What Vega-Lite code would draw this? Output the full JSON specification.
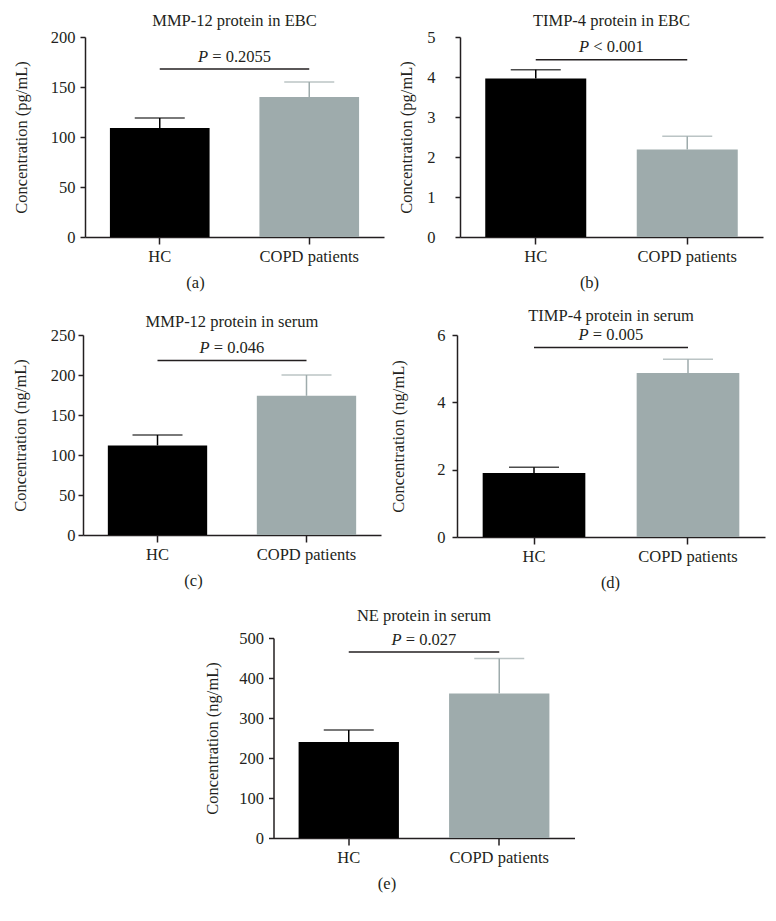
{
  "$schema": "https://vega.github.io/schema/vega-lite/v6.json",
  "padding": {"left": 12, "top": 12, "right": 5, "bottom": 5},
  "background": "white",
  "center": true,
  "spacing": 16,
  "config": {
    "font": "Liberation Serif",
    "view": {"stroke": null},
    "axis": {"labelFont": "Liberation Serif", "titleFont": "Liberation Serif", "labelFontSize": 16.5, "titleFontSize": 16.5, "labelColor": "#231f20", "titleColor": "#231f20", "domainColor": "#231f20", "tickColor": "#231f20", "domainWidth": 1.5, "tickWidth": 1.5, "grid": false, "titleFontWeight": "normal", "labelOverlap": false},
    "axisY": {"tickSize": 5, "labelPadding": 5, "labelOverlap": false, "tickCount": 12, "format": "d"},
    "axisX": {"tickSize": 7, "labelPadding": 4, "labelAngle": 0, "titlePadding": 10},
    "title": {"font": "Liberation Serif", "fontSize": 16.5, "fontWeight": "normal", "color": "#231f20", "offset": 0, "frame": "group"},
    "text": {"font": "Liberation Serif", "fontSize": 16.5, "color": "#231f20"}
  },
  "vconcat": [
    {
      "spacing": 14,
      "hconcat": [
        {
          "width": 299, "height": 200,
          "title": {"text": "MMP-12 protein in EBC", "offset": 0, "frame": "group"},
          "data": {"values": [
            {"group": "HC", "mean": 109, "upper": 119},
            {"group": "COPD patients", "mean": 140, "upper": 155}
          ]},
          "layer": [
            {"mark": "bar", "encoding": {
              "x": {"field": "group", "type": "nominal", "sort": null, "scale": {"domain": ["HC", "COPD patients"], "paddingInner": 0.3333, "paddingOuter": 0.1667}, "axis": {"title": "(a)", "titleX": 110}},
              "y": {"field": "mean", "type": "quantitative", "scale": {"domain": [0, 200], "nice": false}, "axis": {"values": [0, 50, 100, 150, 200], "tickCount": 12, "format": "d", "titlePadding": 21, "labelPadding": 5, "labelOverlap": false}, "title": "Concentration (pg/mL)"},
              "color": {"field": "group", "type": "nominal", "scale": {"domain": ["HC", "COPD patients"], "range": ["#000000", "#9eabac"]}, "legend": null}}},
            {"mark": {"type": "rule", "strokeWidth": 1.5}, "encoding": {
              "x": {"field": "group", "type": "nominal"},
              "y": {"field": "mean", "type": "quantitative", "title": "Concentration (pg/mL)"}, "y2": {"field": "upper"},
              "color": {"field": "group", "type": "nominal", "legend": null}}},
            {"mark": {"type": "tick", "size": 50, "thickness": 1.5}, "encoding": {
              "x": {"field": "group", "type": "nominal"},
              "y": {"field": "upper", "type": "quantitative", "title": "Concentration (pg/mL)"},
              "color": {"field": "group", "type": "nominal", "legend": null}}},
            {"data": {"values": [{"group": "HC", "group2": "COPD patients", "ly": 168, "ty": 180, "p": "P", "op": "= 0.2055"}]},
             "layer": [
              {"mark": {"type": "rule", "strokeWidth": 1.5, "color": "#231f20"}, "encoding": {
                "x": {"field": "group", "type": "nominal"}, "x2": {"field": "group2"},
                "y": {"field": "ly", "type": "quantitative", "title": "Concentration (pg/mL)"}}},
              {"mark": {"type": "text", "fontStyle": "italic", "align": "left", "baseline": "middle", "dx": -36.5}, "encoding": {
                "x": {"field": "group", "type": "nominal", "bandPosition": 1.25},
                "y": {"field": "ty", "type": "quantitative", "title": "Concentration (pg/mL)"}, "text": {"field": "p"}}},
              {"mark": {"type": "text", "align": "left", "baseline": "middle", "dx": -22.3}, "encoding": {
                "x": {"field": "group", "type": "nominal", "bandPosition": 1.25},
                "y": {"field": "ty", "type": "quantitative", "title": "Concentration (pg/mL)"}, "text": {"field": "op"}}}
             ]}
          ]
        },
        {
          "width": 303, "height": 200,
          "title": {"text": "TIMP-4 protein in EBC", "offset": 0, "frame": "group"},
          "data": {"values": [
            {"group": "HC", "mean": 3.96, "upper": 4.18},
            {"group": "COPD patients", "mean": 2.19, "upper": 2.52}
          ]},
          "layer": [
            {"mark": "bar", "encoding": {
              "x": {"field": "group", "type": "nominal", "sort": null, "scale": {"domain": ["HC", "COPD patients"], "paddingInner": 0.3333, "paddingOuter": 0.1667}, "axis": {"title": "(b)", "titleX": 129}},
              "y": {"field": "mean", "type": "quantitative", "scale": {"domain": [0, 5], "nice": false}, "axis": {"values": [0, 1, 2, 3, 4, 5], "tickCount": 12, "format": "d", "titlePadding": 12, "labelPadding": 20, "labelOverlap": false}, "title": "Concentration (pg/mL)"},
              "color": {"field": "group", "type": "nominal", "scale": {"domain": ["HC", "COPD patients"], "range": ["#000000", "#9eabac"]}, "legend": null}}},
            {"mark": {"type": "rule", "strokeWidth": 1.5}, "encoding": {
              "x": {"field": "group", "type": "nominal"},
              "y": {"field": "mean", "type": "quantitative", "title": "Concentration (pg/mL)"}, "y2": {"field": "upper"},
              "color": {"field": "group", "type": "nominal", "legend": null}}},
            {"mark": {"type": "tick", "size": 50, "thickness": 1.5}, "encoding": {
              "x": {"field": "group", "type": "nominal"},
              "y": {"field": "upper", "type": "quantitative", "title": "Concentration (pg/mL)"},
              "color": {"field": "group", "type": "nominal", "legend": null}}},
            {"data": {"values": [{"group": "HC", "group2": "COPD patients", "ly": 4.43, "ty": 4.74, "p": "P", "op": "< 0.001"}]},
             "layer": [
              {"mark": {"type": "rule", "strokeWidth": 1.5, "color": "#231f20"}, "encoding": {
                "x": {"field": "group", "type": "nominal"}, "x2": {"field": "group2"},
                "y": {"field": "ly", "type": "quantitative", "title": "Concentration (pg/mL)"}}},
              {"mark": {"type": "text", "fontStyle": "italic", "align": "left", "baseline": "middle", "dx": -32.4}, "encoding": {
                "x": {"field": "group", "type": "nominal", "bandPosition": 1.25},
                "y": {"field": "ty", "type": "quantitative", "title": "Concentration (pg/mL)"}, "text": {"field": "p"}}},
              {"mark": {"type": "text", "align": "left", "baseline": "middle", "dx": -18.2}, "encoding": {
                "x": {"field": "group", "type": "nominal", "bandPosition": 1.25},
                "y": {"field": "ty", "type": "quantitative", "title": "Concentration (pg/mL)"}, "text": {"field": "op"}}}
             ]}
          ]
        }
      ]
    },
    {
      "spacing": 9,
      "hconcat": [
        {
          "width": 298, "height": 200,
          "title": {"text": "MMP-12 protein in serum", "offset": -3, "frame": "group"},
          "data": {"values": [
            {"group": "HC", "mean": 112, "upper": 125},
            {"group": "COPD patients", "mean": 174, "upper": 200}
          ]},
          "layer": [
            {"mark": "bar", "encoding": {
              "x": {"field": "group", "type": "nominal", "sort": null, "scale": {"domain": ["HC", "COPD patients"], "paddingInner": 0.3333, "paddingOuter": 0.1667}, "axis": {"title": "(c)", "titleX": 110}},
              "y": {"field": "mean", "type": "quantitative", "scale": {"domain": [0, 250], "nice": false}, "axis": {"values": [0, 50, 100, 150, 200, 250], "tickCount": 12, "format": "d", "titlePadding": 22, "labelPadding": 3, "labelOverlap": false}, "title": "Concentration (ng/mL)"},
              "color": {"field": "group", "type": "nominal", "scale": {"domain": ["HC", "COPD patients"], "range": ["#000000", "#9eabac"]}, "legend": null}}},
            {"mark": {"type": "rule", "strokeWidth": 1.5}, "encoding": {
              "x": {"field": "group", "type": "nominal"},
              "y": {"field": "mean", "type": "quantitative", "title": "Concentration (ng/mL)"}, "y2": {"field": "upper"},
              "color": {"field": "group", "type": "nominal", "legend": null}}},
            {"mark": {"type": "tick", "size": 50, "thickness": 1.5}, "encoding": {
              "x": {"field": "group", "type": "nominal"},
              "y": {"field": "upper", "type": "quantitative", "title": "Concentration (ng/mL)"},
              "color": {"field": "group", "type": "nominal", "legend": null}}},
            {"data": {"values": [{"group": "HC", "group2": "COPD patients", "ly": 218, "ty": 234, "p": "P", "op": "= 0.046"}]},
             "layer": [
              {"mark": {"type": "rule", "strokeWidth": 1.5, "color": "#231f20"}, "encoding": {
                "x": {"field": "group", "type": "nominal"}, "x2": {"field": "group2"},
                "y": {"field": "ly", "type": "quantitative", "title": "Concentration (ng/mL)"}}},
              {"mark": {"type": "text", "fontStyle": "italic", "align": "left", "baseline": "middle", "dx": -32.4}, "encoding": {
                "x": {"field": "group", "type": "nominal", "bandPosition": 1.25},
                "y": {"field": "ty", "type": "quantitative", "title": "Concentration (ng/mL)"}, "text": {"field": "p"}}},
              {"mark": {"type": "text", "align": "left", "baseline": "middle", "dx": -18.2}, "encoding": {
                "x": {"field": "group", "type": "nominal", "bandPosition": 1.25},
                "y": {"field": "ty", "type": "quantitative", "title": "Concentration (ng/mL)"}, "text": {"field": "op"}}}
             ]}
          ]
        },
        {
          "width": 308, "height": 202,
          "title": {"text": "TIMP-4 protein in serum", "offset": 3, "frame": "group"},
          "data": {"values": [
            {"group": "HC", "mean": 1.9, "upper": 2.07},
            {"group": "COPD patients", "mean": 4.87, "upper": 5.28}
          ]},
          "layer": [
            {"mark": "bar", "encoding": {
              "x": {"field": "group", "type": "nominal", "sort": null, "scale": {"domain": ["HC", "COPD patients"], "paddingInner": 0.3333, "paddingOuter": 0.1667}, "axis": {"title": "(d)", "titleX": 153}},
              "y": {"field": "mean", "type": "quantitative", "scale": {"domain": [0, 6], "nice": false}, "axis": {"values": [0, 2, 4, 6], "tickCount": 12, "format": "d", "titlePadding": 30, "labelPadding": 7, "labelOverlap": false}, "title": "Concentration (ng/mL)"},
              "color": {"field": "group", "type": "nominal", "scale": {"domain": ["HC", "COPD patients"], "range": ["#000000", "#9eabac"]}, "legend": null}}},
            {"mark": {"type": "rule", "strokeWidth": 1.5}, "encoding": {
              "x": {"field": "group", "type": "nominal"},
              "y": {"field": "mean", "type": "quantitative", "title": "Concentration (ng/mL)"}, "y2": {"field": "upper"},
              "color": {"field": "group", "type": "nominal", "legend": null}}},
            {"mark": {"type": "tick", "size": 50, "thickness": 1.5}, "encoding": {
              "x": {"field": "group", "type": "nominal"},
              "y": {"field": "upper", "type": "quantitative", "title": "Concentration (ng/mL)"},
              "color": {"field": "group", "type": "nominal", "legend": null}}},
            {"data": {"values": [{"group": "HC", "group2": "COPD patients", "ly": 5.63, "ty": 6.0, "p": "P", "op": "= 0.005"}]},
             "layer": [
              {"mark": {"type": "rule", "strokeWidth": 1.5, "color": "#231f20"}, "encoding": {
                "x": {"field": "group", "type": "nominal"}, "x2": {"field": "group2"},
                "y": {"field": "ly", "type": "quantitative", "title": "Concentration (ng/mL)"}}},
              {"mark": {"type": "text", "fontStyle": "italic", "align": "left", "baseline": "middle", "dx": -32.4}, "encoding": {
                "x": {"field": "group", "type": "nominal", "bandPosition": 1.25},
                "y": {"field": "ty", "type": "quantitative", "title": "Concentration (ng/mL)"}, "text": {"field": "p"}}},
              {"mark": {"type": "text", "align": "left", "baseline": "middle", "dx": -18.2}, "encoding": {
                "x": {"field": "group", "type": "nominal", "bandPosition": 1.25},
                "y": {"field": "ty", "type": "quantitative", "title": "Concentration (ng/mL)"}, "text": {"field": "op"}}}
             ]}
          ]
        }
      ]
    },
    {
      "width": 301, "height": 200,
      "title": {"text": "NE protein in serum", "offset": 6, "frame": "group"},
      "data": {"values": [
        {"group": "HC", "mean": 240, "upper": 270},
        {"group": "COPD patients", "mean": 361, "upper": 449}
      ]},
      "layer": [
        {"mark": "bar", "encoding": {
          "x": {"field": "group", "type": "nominal", "sort": null, "scale": {"domain": ["HC", "COPD patients"], "paddingInner": 0.3333, "paddingOuter": 0.1667}, "axis": {"title": "(e)", "titleX": 113}},
          "y": {"field": "mean", "type": "quantitative", "scale": {"domain": [0, 500], "nice": false}, "axis": {"values": [0, 100, 200, 300, 400, 500], "tickCount": 12, "format": "d", "titlePadding": 18, "labelPadding": 5, "labelOverlap": false}, "title": "Concentration (ng/mL)"},
          "color": {"field": "group", "type": "nominal", "scale": {"domain": ["HC", "COPD patients"], "range": ["#000000", "#9eabac"]}, "legend": null}}},
        {"mark": {"type": "rule", "strokeWidth": 1.5}, "encoding": {
          "x": {"field": "group", "type": "nominal"},
          "y": {"field": "mean", "type": "quantitative", "title": "Concentration (ng/mL)"}, "y2": {"field": "upper"},
          "color": {"field": "group", "type": "nominal", "legend": null}}},
        {"mark": {"type": "tick", "size": 50, "thickness": 1.5}, "encoding": {
          "x": {"field": "group", "type": "nominal"},
          "y": {"field": "upper", "type": "quantitative", "title": "Concentration (ng/mL)"},
          "color": {"field": "group", "type": "nominal", "legend": null}}},
        {"data": {"values": [{"group": "HC", "group2": "COPD patients", "ly": 465, "ty": 496, "p": "P", "op": "= 0.027"}]},
         "layer": [
          {"mark": {"type": "rule", "strokeWidth": 1.5, "color": "#231f20"}, "encoding": {
            "x": {"field": "group", "type": "nominal"}, "x2": {"field": "group2"},
            "y": {"field": "ly", "type": "quantitative", "title": "Concentration (ng/mL)"}}},
          {"mark": {"type": "text", "fontStyle": "italic", "align": "left", "baseline": "middle", "dx": -32.4}, "encoding": {
            "x": {"field": "group", "type": "nominal", "bandPosition": 1.25},
            "y": {"field": "ty", "type": "quantitative", "title": "Concentration (ng/mL)"}, "text": {"field": "p"}}},
          {"mark": {"type": "text", "align": "left", "baseline": "middle", "dx": -18.2}, "encoding": {
            "x": {"field": "group", "type": "nominal", "bandPosition": 1.25},
            "y": {"field": "ty", "type": "quantitative", "title": "Concentration (ng/mL)"}, "text": {"field": "op"}}}
         ]}
      ]
    }
  ]
}
